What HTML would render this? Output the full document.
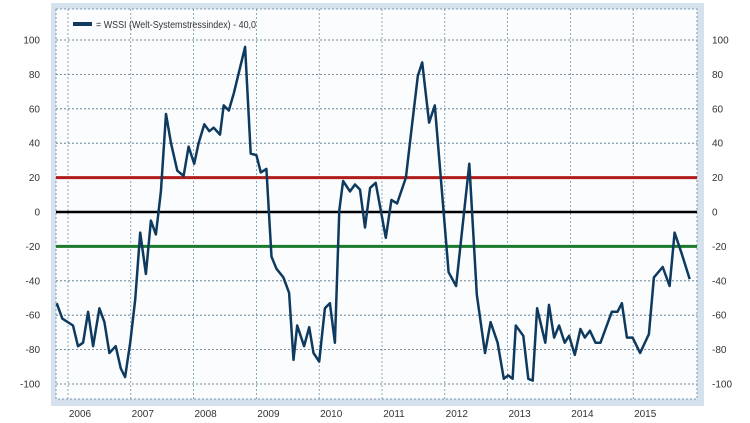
<!DOCTYPE html>
<html><head><meta charset="utf-8"><style>
html,body{margin:0;padding:0;background:#fff;}
svg{display:block;font-family:"Liberation Sans",sans-serif;}
</style></head><body>
<svg id="chart" width="750" height="423" viewBox="0 0 750 423">
<rect x="51" y="3" width="653" height="403" fill="#d5e1ec"/>
<rect x="56" y="9" width="641" height="390" fill="#fbfcfd" stroke="#7a9ab0" stroke-width="1" stroke-dasharray="2,2"/>
<g id="grid"></g><g id="refs"></g><g id="series"></g><g id="labels"></g>
<g>
<line x1="73" y1="24" x2="92" y2="24" stroke="#0d3a5e" stroke-width="4"/>
<text x="96" y="28" font-size="10" fill="#333" textLength="160" lengthAdjust="spacingAndGlyphs">= WSSI (Welt-Systemstressindex) - 40,0</text>
</g>
</svg>
<script>
const times=[2005.82,2005.91,2006.08,2006.16,2006.24,2006.32,2006.40,2006.50,2006.58,2006.66,2006.76,2006.84,2006.91,2006.99,2007.07,2007.15,2007.24,2007.32,2007.40,2007.48,2007.56,2007.64,2007.74,2007.84,2007.92,2008.01,2008.08,2008.17,2008.25,2008.32,2008.42,2008.48,2008.56,2008.64,2008.82,2008.91,2009.00,2009.07,2009.16,2009.24,2009.32,2009.43,2009.52,2009.59,2009.65,2009.76,2009.84,2009.91,2010.00,2010.09,2010.17,2010.25,2010.32,2010.38,2010.49,2010.57,2010.65,2010.73,2010.81,2010.90,2011.06,2011.15,2011.24,2011.38,2011.47,2011.57,2011.64,2011.75,2011.84,2012.06,2012.18,2012.39,2012.51,2012.64,2012.73,2012.84,2012.94,2013.01,2013.08,2013.13,2013.25,2013.33,2013.40,2013.47,2013.60,2013.66,2013.74,2013.82,2013.91,2013.98,2014.07,2014.16,2014.23,2014.31,2014.40,2014.48,2014.66,2014.75,2014.82,2014.90,2014.99,2015.11,2015.25,2015.33,2015.47,2015.58,2015.66,2015.77,2015.90];
const values=[-53,-62,-66,-78,-76,-58,-78,-56,-64,-82,-78,-91,-96,-76,-51,-12,-36,-5,-13,12,57,40,24,21,38,28,40,51,47,49,45,62,59,69,96,34,33,23,25,-26,-33,-38,-47,-86,-66,-78,-67,-82,-87,-56,-53,-76,1,18,12,16,13,-9,14,17,-15,7,5,20,48,79,87,52,62,-35,-43,28,-48,-82,-64,-76,-97,-95,-97,-66,-72,-97,-98,-56,-76,-54,-73,-66,-76,-72,-83,-68,-73,-69,-76,-76,-58,-58,-53,-73,-73,-82,-71,-38,-32,-43,-12,-24,-39];
const yTicks=[100,80,60,40,20,0,-20,-40,-60,-80,-100];
const years=[2006,2007,2008,2009,2010,2011,2012,2013,2014,2015];
const refValues=[20,0,-20];
const refColors=['#b01c1c','#000000','#1b7a2c'];
const NS='http://www.w3.org/2000/svg';
function xOf(t){return 68+(t-2006)*62.8;}
function yOf(v){return 212-v*1.72;}
function mk(tag,attrs,parent){const e=document.createElementNS(NS,tag);for(const k in attrs)e.setAttribute(k,attrs[k]);document.getElementById(parent).appendChild(e);return e;}
yTicks.forEach(v=>{
  const l=mk('line',{x1:56,x2:697,y1:yOf(v),y2:yOf(v),stroke:'#4f6f86','stroke-width':0.8,'stroke-dasharray':'2,2'},'grid');
  
  
  const a=mk('text',{x:40,y:yOf(v)+3.5,'font-size':10,fill:'#333','text-anchor':'end'},'labels');a.textContent=v;
  
  
  const b=mk('text',{x:712,y:yOf(v)+3.5,'font-size':10,fill:'#333','text-anchor':'start'},'labels');b.textContent=v;
  
  
});
years.forEach(yr=>{
  const x=xOf(yr);
  if(yr>2006||true){const l=mk('line',{x1:x,x2:x,y1:9,y2:399,stroke:'#6e93ab','stroke-width':0.8,'stroke-dasharray':'2,2'},'grid');
  
  }
  const t=mk('text',{x:x+12,y:417,'font-size':10,fill:'#333','text-anchor':'middle'},'labels');t.textContent=yr;
  
  
});
refValues.forEach((v,i)=>{
  const l=mk('line',{x1:56,x2:697,y1:yOf(v),y2:yOf(v),stroke:refColors[i],'stroke-width':v===0?2.5:3},'refs');
  
  
});
const pts=times.map((t,i)=>xOf(t).toFixed(1)+','+yOf(values[i]).toFixed(1)).join(' ');
const pl=mk('polyline',{points:pts,fill:'none',stroke:'#0d3a5e','stroke-width':2.5,'stroke-linejoin':'round'},'series');


</script>
</body></html>
